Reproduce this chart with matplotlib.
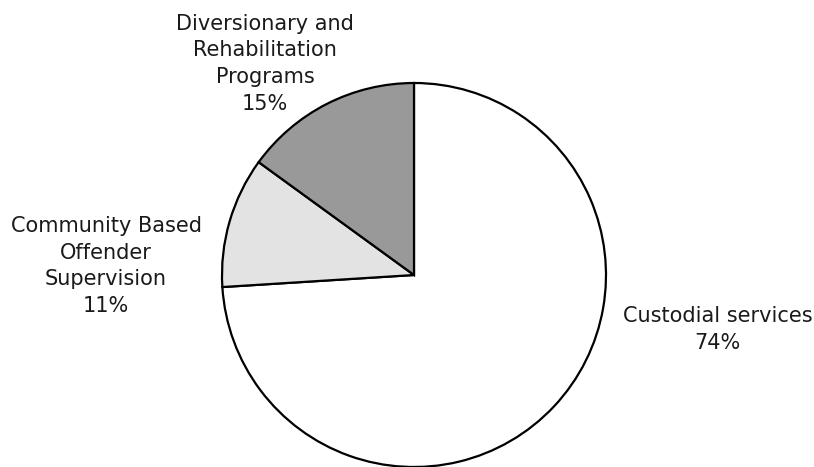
import matplotlib.pyplot as plt

# share of spending by program
programs = ['Custodial services', 'Community Based\nOffender\nSupervision',
            'Diversionary and\nRehabilitation\nPrograms']
shares = [74, 11, 15]
colors = ['#ffffff', '#e3e3e3', '#999999']

fig = plt.figure(figsize=(8.14, 4.67), dpi=100)
W, H = 814, 467
cx, cy, r = 414, 275, 192
ax = fig.add_axes([(cx - r) / W, (H - cy - r) / H, 2 * r / W, 2 * r / H])

ax.pie(shares, colors=colors, startangle=90, counterclock=False,
       wedgeprops=dict(edgecolor='black', linewidth=1.6), radius=1)
ax.set_xlim(-1, 1)
ax.set_ylim(-1, 1)
ax.set_aspect('equal')
ax.axis('off')

# label positions in pie units
label_pos = [(1.58, -0.284), (-1.604, 0.047), (-0.776, 1.10)]
for name, val, (x, y) in zip(programs, shares, label_pos):
    ax.text(x, y, f'{name}\n{val}%', ha='center', va='center', fontsize=15,
            color='#1a1a1a', linespacing=1.42, clip_on=False)

fig.savefig('out.png', dpi=100)
